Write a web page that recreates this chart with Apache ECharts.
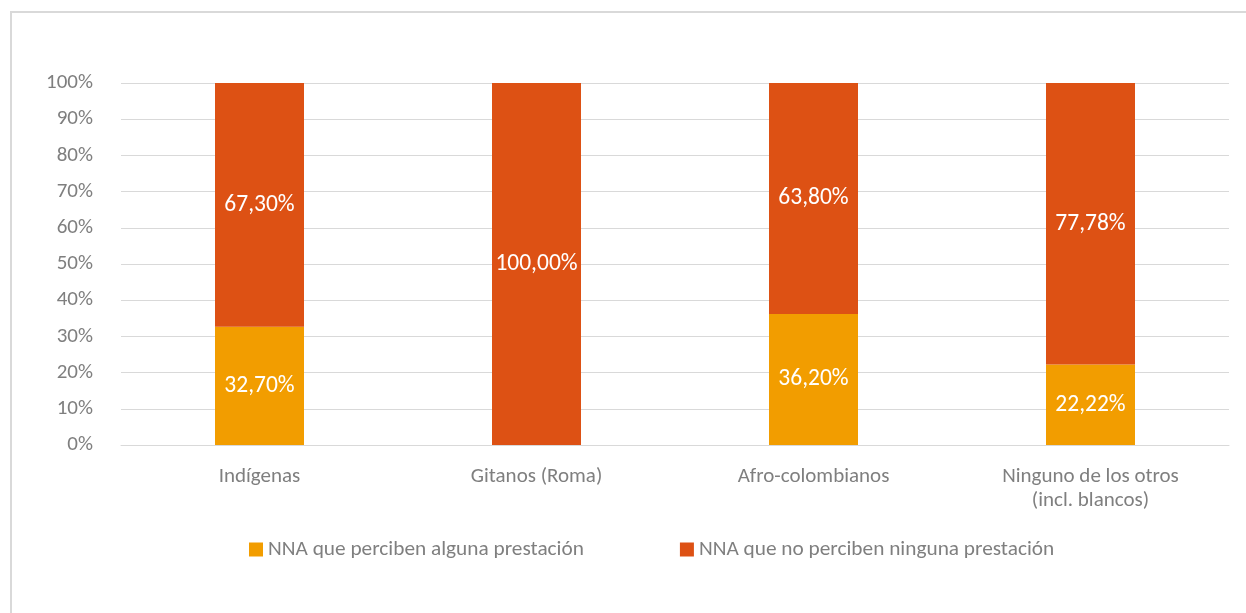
<!DOCTYPE html>
<html>
<head>
<meta charset="utf-8">
<script src="https://cdn.jsdelivr.net/npm/echarts@6/dist/echarts.min.js"></script>
<style>
html,body{margin:0;padding:0;background:#fff;}
#c{width:1246px;height:613px;}
</style>
</head>
<body>
<div id="c"></div>
<script>
const categories = ['Indígenas', 'Gitanos (Roma)', 'Afro-colombianos', 'Ninguno de los otros\n(incl. blancos)'];
const seriesNames = ['NNA que perciben alguna prestación', 'NNA que no perciben ninguna prestación'];
const conPrestacion = [32.70, 0, 36.20, 22.22];
const sinPrestacion = [67.30, 100.00, 63.80, 77.78];
const yTicks = [0, 100, 10];

const FONT = 'Carlito, "Open Sans", sans-serif';
const GRAY = '#7f7f7f';
const fmt = p => p.value ? p.value.toFixed(2).replace('.', ',') + '%' : '';

const chart = echarts.init(document.getElementById('c'), null, {renderer: 'canvas'});
chart.setOption({
  animation: false,
  backgroundColor: '#fff',
  graphic: [{
    type: 'rect', shape: {x: 11, y: 12, width: 1260, height: 620},
    style: {fill: 'none', stroke: '#d9d9d9', lineWidth: 2}, silent: true
  }],
  grid: {left: 121, right: 17, top: 83, bottom: 168, containLabel: false},
  legend: {
    data: seriesNames, left: 244, top: 534, itemWidth: 14, itemHeight: 14, itemGap: 96,
    icon: 'rect',
    textStyle: {color: GRAY, fontSize: 21.3, fontFamily: FONT}
  },
  xAxis: {
    type: 'category', data: categories,
    axisLine: {lineStyle: {color: '#d9d9d9', width: 1}},
    axisTick: {show: false},
    axisLabel: {color: GRAY, fontSize: 21, fontFamily: FONT, margin: 20, lineHeight: 24}
  },
  yAxis: {
    type: 'value', min: yTicks[0], max: yTicks[1], interval: yTicks[2],
    axisLine: {show: false}, axisTick: {show: false},
    splitLine: {lineStyle: {color: '#d9d9d9', width: 1}},
    axisLabel: {color: GRAY, fontSize: 21, fontFamily: FONT, margin: 28, formatter: '{value}%'}
  },
  series: [
    {
      name: seriesNames[0], type: 'bar', stack: 'a', data: conPrestacion, barWidth: 89,
      itemStyle: {color: '#F29D00'},
      label: {show: true, position: 'inside', color: '#fff', fontSize: 23.5, fontFamily: FONT, formatter: fmt}
    },
    {
      name: seriesNames[1], type: 'bar', stack: 'a', data: sinPrestacion, barWidth: 89,
      itemStyle: {color: '#DD5114'},
      label: {show: true, position: 'inside', color: '#fff', fontSize: 23.5, fontFamily: FONT, formatter: fmt}
    }
  ]
});
</script>
</body>
</html>
